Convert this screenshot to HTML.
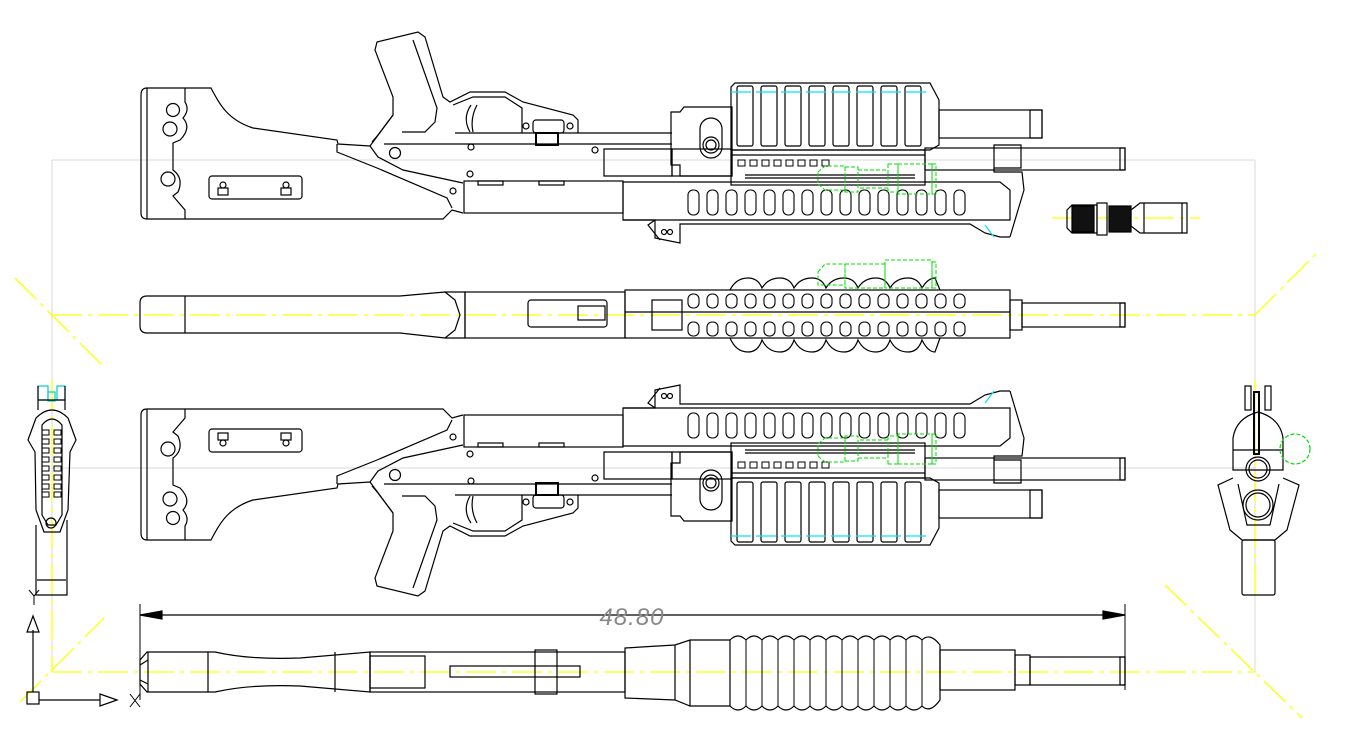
<!DOCTYPE html>
<html><head><meta charset="utf-8"><style>
html,body{margin:0;padding:0;background:#fff;}
svg{display:block}
</style></head><body>
<svg width="1347" height="752" viewBox="0 0 1347 752" xmlns="http://www.w3.org/2000/svg" fill="none" stroke="#000" stroke-width="1.2" font-family="Liberation Sans, sans-serif">
<!-- construction lines -->
<g stroke="#d8d8d8" stroke-width="1">
<line x1="52" y1="160" x2="1255" y2="160"/>
<line x1="52" y1="468" x2="1255" y2="468"/>
<line x1="52" y1="160" x2="52" y2="672"/>
<line x1="1255" y1="160" x2="1255" y2="672"/>
</g>
<g stroke="#ffff00" stroke-width="1.3" stroke-dasharray="30,6,4,6">
<line x1="52" y1="315" x2="1255" y2="315"/>
<line x1="52" y1="672" x2="1255" y2="672"/>
<line x1="52" y1="380" x2="52" y2="672"/>
<line x1="1255" y1="380" x2="1255" y2="600"/>
<line x1="15" y1="278" x2="102" y2="365"/>
<line x1="1255" y1="315" x2="1318" y2="252"/>
<line x1="1165" y1="585" x2="1302" y2="718"/>
<line x1="20" y1="702" x2="104" y2="618"/>
<line x1="1052" y1="218" x2="1200" y2="218"/>
</g>

<defs>
<g id="gun1">
 <!-- stock -->
 <path d="M147,88 L211,88 C220,105 228,120 253,128 L337,140 L338,144 L370,146 L393,115 L393,97 L375,50 L377,42 L418,32 L425,37 L443,97 L450,102 L470,92 L505,92 L523,102 L573,115 L578,120 L578,133"/>
 <path d="M147,88 Q141,88 141,95 L141,213 Q141,219 147,219 L443,219 L452,210 L463,213"/>
 <line x1="147" y1="88" x2="147" y2="219"/>
 <path d="M185,88 L185,102 Q190,110 183,118 Q192,128 180,140 L173,143 L173,170 Q184,178 178,192 L173,196 L185,210 L185,219"/>
 <circle cx="173" cy="110" r="6.5"/><circle cx="170" cy="129" r="7"/><circle cx="168" cy="179" r="7"/>
 <rect x="209" y="176" width="93" height="23" rx="3"/>
 <rect x="218" y="188" width="10" height="7"/><circle cx="223" cy="185" r="3"/>
 <rect x="281" y="188" width="10" height="7"/><circle cx="286" cy="185" r="3"/>
 <path d="M337,144 L337,152 L377,168 L447,198 L452,208"/>
 <path d="M370,146 L378,157 L403,170 L463,183"/>
 <path d="M413,40 L437,108 L435,122 L425,132 L402,132"/>
 <path d="M393,115 L378,135 L372,142"/>
 <circle cx="395" cy="153" r="5.5"/>
 <!-- trigger guard -->
 <path d="M453,105 L473,97 L505,97 L522,108 L522,133"/>
 <path d="M471,105 Q462,118 470,132"/><path d="M477,105 Q470,118 473,132"/>
 <rect x="533" y="120" width="31" height="13" rx="3"/>
 <rect x="536" y="133" width="22" height="12" stroke-width="2"/>
 <circle cx="526" cy="126" r="3"/><circle cx="570" cy="126" r="3"/>
 <circle cx="471" cy="147" r="3"/><circle cx="470" cy="174" r="3"/><circle cx="595" cy="150" r="3"/><circle cx="453" cy="191" r="3"/>
 <!-- receiver -->
 <line x1="455" y1="133" x2="672" y2="133"/>
 <line x1="384" y1="144" x2="672" y2="144"/>
 <path d="M604,149 L672,149 L672,176 L604,176 Z"/>
 <rect x="464" y="181" width="159" height="32"/>
 <rect x="478" y="181" width="25" height="4"/><rect x="539" y="181" width="25" height="4"/>
 <!-- receiver block -->
 <path d="M671,112 L671,165 L680,165 L680,176 L732,176 L732,107 L684,107 L680,112 Z"/>
 <rect x="700" y="118" width="22" height="40" rx="11"/>
 <circle cx="711" cy="145" r="8"/><circle cx="711" cy="145" r="5"/>
 <!-- ribbed upper -->
 <path d="M731,87 L735,83 L930,83 L939,100 L939,145 L930,150 L731,150 Z"/>
 <g>
  <rect x="737" y="86" width="16" height="60" rx="2"/><rect x="761" y="86" width="16" height="60" rx="2"/>
  <rect x="785" y="86" width="16" height="60" rx="2"/><rect x="809" y="86" width="16" height="60" rx="2"/>
  <rect x="833" y="86" width="16" height="60" rx="2"/><rect x="857" y="86" width="16" height="60" rx="2"/>
  <rect x="881" y="86" width="16" height="60" rx="2"/><rect x="905" y="86" width="16" height="60" rx="2"/>
 </g>
 <line x1="731" y1="92" x2="928" y2="92" stroke="#00e5ff" stroke-dasharray="20,5"/>
 <rect x="939" y="110" width="103" height="28"/><rect x="1030" y="110" width="12" height="28"/>
 <!-- rail -->
 <rect x="731" y="150" width="194" height="35"/>
 <g stroke-width="1"><rect x="738" y="160" width="7" height="6"/><rect x="750" y="160" width="7" height="6"/><rect x="762" y="160" width="7" height="6"/><rect x="774" y="160" width="7" height="6"/><rect x="786" y="160" width="7" height="6"/><rect x="798" y="160" width="7" height="6"/><rect x="810" y="160" width="7" height="6"/><rect x="822" y="160" width="7" height="6"/></g>
 <line x1="745" y1="175" x2="915" y2="175"/><line x1="745" y1="178" x2="915" y2="178"/>
 <line x1="731" y1="155" x2="925" y2="155"/>
 <!-- lower barrel -->
 <rect x="672" y="149" width="60" height="27"/>
 <rect x="925" y="148" width="200" height="22"/><rect x="1120" y="148" width="5" height="22"/>
 <path d="M994,145 L1021,145 L1021,168 L994,168 Z"/>
 <path d="M994,168 L994,172 L1022,172 L1024,190 L1018,210 L1010,237"/>
 <!-- handguard -->
 <path d="M623,182 L1000,182 L1010,190 L1010,220 L623,220 Z"/>
 <g stroke-width="1.1">
  <rect x="688" y="190" width="11" height="25" rx="5"/><rect x="707" y="190" width="11" height="25" rx="5"/><rect x="726" y="190" width="11" height="25" rx="5"/><rect x="745" y="190" width="11" height="25" rx="5"/><rect x="764" y="190" width="11" height="25" rx="5"/><rect x="783" y="190" width="11" height="25" rx="5"/><rect x="802" y="190" width="11" height="25" rx="5"/><rect x="821" y="190" width="11" height="25" rx="5"/><rect x="840" y="190" width="11" height="25" rx="5"/><rect x="859" y="190" width="11" height="25" rx="5"/><rect x="878" y="190" width="11" height="25" rx="5"/><rect x="897" y="190" width="11" height="25" rx="5"/><rect x="916" y="190" width="11" height="25" rx="5"/><rect x="935" y="190" width="11" height="25" rx="5"/><rect x="954" y="190" width="11" height="25" rx="5"/>
 </g>
 <path d="M623,220 L655,220 L655,238 L680,243 L680,224 L970,224 L985,233 L1000,237 L1010,237"/>
 <path d="M655,220 L648,225 L660,240"/>
 <circle cx="664" cy="232" r="2.5"/><circle cx="670" cy="232" r="2.5"/>
 <line x1="985" y1="225" x2="994" y2="237" stroke="#00e5ff"/>
 <!-- green dashed scope -->
 <g stroke="#00dd00" stroke-dasharray="4,2" stroke-width="1">
  <path d="M818,172 L825,166 L845,166 L845,190 L825,190 L818,184 Z"/>
  <rect x="845" y="167" width="13" height="25"/><rect x="858" y="170" width="30" height="18"/>
  <rect x="888" y="164" width="10" height="28"/><rect x="898" y="164" width="34" height="30"/>
  <rect x="932" y="164" width="4" height="30"/>
 </g>
</g>
</defs>

<use href="#gun1"/>
<use href="#gun1" transform="translate(0,628) scale(1,-1)"/>

<!-- muzzle device -->
<path d="M1067,210 L1072,205 L1097,205 L1097,233 L1072,233 L1067,228 Z"/>
<rect x="1072" y="206" width="22" height="26" fill="#111"/>
<rect x="1097" y="203" width="10" height="32"/>
<rect x="1109" y="206" width="22" height="26" fill="#111"/>
<path d="M1131,210 L1140,203 L1187,203 L1187,233 L1140,233 L1131,226 Z"/>
<line x1="1144" y1="203" x2="1144" y2="233"/><line x1="1182" y1="203" x2="1182" y2="233"/>

<!-- gun 2 (top view) -->
<path d="M147,296 L185,296 L400,296 L445,292 L465,292 L465,338 L445,338 L400,333 L185,333 L147,333 Q140,333 140,326 L140,303 Q140,296 147,296 Z"/>
<line x1="185" y1="296" x2="185" y2="333"/>
<path d="M445,292 L455,300 L460,315 L455,330 L445,338"/>
<rect x="465" y="292" width="160" height="46"/>
<rect x="528" y="300" width="79" height="27" rx="3"/>
<rect x="578" y="306" width="27" height="14"/>
<rect x="625" y="290" width="385" height="48"/>
<rect x="652" y="300" width="30" height="30"/>
<path d="M730,290 Q736,278 748,278 Q758,278 762,288 Q768,278 780,278 Q790,278 794,288 Q800,278 812,278 Q822,278 826,288 Q832,278 844,278 Q854,278 858,288 Q864,278 876,278 Q886,278 890,288 Q896,278 908,278 Q918,278 922,288 Q928,278 935,278 L940,290"/>
<path d="M730,338 Q736,352 748,352 Q758,352 762,340 Q768,352 780,352 Q790,352 794,340 Q800,352 812,352 Q822,352 826,340 Q832,352 844,352 Q854,352 858,340 Q864,352 876,352 Q886,352 890,340 Q896,352 908,352 Q918,352 922,340 Q928,352 935,352 L940,338"/>
<g stroke-width="1.1">
<rect x="688" y="294" width="11" height="14" rx="5"/><rect x="707" y="294" width="11" height="14" rx="5"/><rect x="726" y="294" width="11" height="14" rx="5"/><rect x="745" y="294" width="11" height="14" rx="5"/><rect x="764" y="294" width="11" height="14" rx="5"/><rect x="783" y="294" width="11" height="14" rx="5"/><rect x="802" y="294" width="11" height="14" rx="5"/><rect x="821" y="294" width="11" height="14" rx="5"/><rect x="840" y="294" width="11" height="14" rx="5"/><rect x="859" y="294" width="11" height="14" rx="5"/><rect x="878" y="294" width="11" height="14" rx="5"/><rect x="897" y="294" width="11" height="14" rx="5"/><rect x="916" y="294" width="11" height="14" rx="5"/><rect x="935" y="294" width="11" height="14" rx="5"/><rect x="954" y="294" width="11" height="14" rx="5"/>
<rect x="688" y="322" width="11" height="14" rx="5"/><rect x="707" y="322" width="11" height="14" rx="5"/><rect x="726" y="322" width="11" height="14" rx="5"/><rect x="745" y="322" width="11" height="14" rx="5"/><rect x="764" y="322" width="11" height="14" rx="5"/><rect x="783" y="322" width="11" height="14" rx="5"/><rect x="802" y="322" width="11" height="14" rx="5"/><rect x="821" y="322" width="11" height="14" rx="5"/><rect x="840" y="322" width="11" height="14" rx="5"/><rect x="859" y="322" width="11" height="14" rx="5"/><rect x="878" y="322" width="11" height="14" rx="5"/><rect x="897" y="322" width="11" height="14" rx="5"/><rect x="916" y="322" width="11" height="14" rx="5"/><rect x="935" y="322" width="11" height="14" rx="5"/><rect x="954" y="322" width="11" height="14" rx="5"/>
</g>
<rect x="1010" y="300" width="12" height="30"/>
<rect x="1022" y="303" width="103" height="24"/><rect x="1120" y="303" width="5" height="24"/>
<line x1="625" y1="312" x2="1010" y2="312"/>
<g stroke="#00dd00" stroke-dasharray="4,2" stroke-width="1">
<path d="M818,272 L825,264 L845,264 L845,285 L818,285 Z"/><rect x="845" y="264" width="40" height="24"/><rect x="885" y="260" width="47" height="28"/><rect x="932" y="262" width="4" height="26"/>
</g>

<!-- gun 4 (bottom view) -->
<path d="M147,652 L215,652 Q250,660 300,658 L370,652 L370,692 L300,686 Q250,684 215,692 L147,692 L140,684 L140,660 Z"/>
<line x1="148" y1="652" x2="148" y2="692"/><line x1="140" y1="665" x2="148" y2="660"/><line x1="140" y1="680" x2="148" y2="684"/>
<line x1="208" y1="652" x2="208" y2="692"/>
<line x1="335" y1="652" x2="335" y2="692"/>
<rect x="370" y="652" width="255" height="40"/>
<rect x="370" y="656" width="55" height="32"/>
<rect x="450" y="666" width="130" height="11"/>
<rect x="535" y="650" width="22" height="44"/>
<path d="M625,648 L675,645 L690,640 L730,640 L730,706 L690,706 L675,700 L625,698 Z"/>
<line x1="675" y1="645" x2="675" y2="700"/><line x1="690" y1="640" x2="690" y2="706"/>
<path d="M730,640 Q738,632 746,640 Q754,632 762,640 Q770,632 778,640 Q786,632 794,640 Q802,632 810,640 Q818,632 826,640 Q834,632 842,640 Q850,632 858,640 Q866,632 874,640 Q882,632 890,640 Q898,632 906,640 Q914,632 922,640 Q930,632 940,645 L940,700 Q930,714 922,706 Q914,714 906,706 Q898,714 890,706 Q882,714 874,706 Q866,714 858,706 Q850,714 842,706 Q834,714 826,706 Q818,714 810,706 Q802,714 794,706 Q786,714 778,706 Q770,714 762,706 Q754,714 746,706 Q738,714 730,706"/>
<g stroke-width="1"><line x1="746" y1="640" x2="746" y2="706"/><line x1="762" y1="640" x2="762" y2="706"/><line x1="778" y1="640" x2="778" y2="706"/><line x1="794" y1="640" x2="794" y2="706"/><line x1="810" y1="640" x2="810" y2="706"/><line x1="826" y1="640" x2="826" y2="706"/><line x1="842" y1="640" x2="842" y2="706"/><line x1="858" y1="640" x2="858" y2="706"/><line x1="874" y1="640" x2="874" y2="706"/><line x1="890" y1="640" x2="890" y2="706"/><line x1="906" y1="640" x2="906" y2="706"/><line x1="922" y1="640" x2="922" y2="706"/></g>
<rect x="940" y="650" width="75" height="40"/>
<rect x="1015" y="655" width="15" height="30"/>
<rect x="1030" y="657" width="95" height="28"/><rect x="1120" y="657" width="5" height="28"/>

<!-- dimension -->
<line x1="140" y1="604" x2="140" y2="700" stroke-width="1"/>
<line x1="1125" y1="604" x2="1125" y2="690" stroke-width="1"/>
<line x1="140" y1="615" x2="1125" y2="615"/>
<path d="M140,615 L162,611 L162,619 Z" fill="#000"/>
<path d="M1125,615 L1103,611 L1103,619 Z" fill="#000"/>
<text x="632" y="625" text-anchor="middle" font-size="24" font-style="italic" fill="#888" stroke="none" letter-spacing="1">48.80</text>

<!-- left end view -->
<rect x="38" y="386" width="10" height="14" stroke="#00cccc"/><rect x="57" y="386" width="8" height="14" stroke="#00cccc"/><rect x="48" y="392" width="7" height="9" stroke="#00cccc"/>
<line x1="38" y1="400" x2="65" y2="400"/><line x1="38" y1="386" x2="38" y2="410"/><line x1="65" y1="386" x2="65" y2="410"/>
<path d="M36,418 Q52,402 68,418 L76,440 L70,452 L68,510 L60,532 L44,532 L36,510 L35,452 L28,440 Z"/>
<path d="M42,425 Q52,413 62,425 L62,515 L56,525 L48,525 L42,515 Z"/>
<g stroke-width="1"><rect x="42" y="430" width="7" height="5"/><rect x="54" y="430" width="7" height="5"/><rect x="42" y="439" width="7" height="5"/><rect x="54" y="439" width="7" height="5"/><rect x="42" y="448" width="7" height="5"/><rect x="54" y="448" width="7" height="5"/><rect x="42" y="457" width="7" height="5"/><rect x="54" y="457" width="7" height="5"/><rect x="42" y="466" width="7" height="5"/><rect x="54" y="466" width="7" height="5"/><rect x="42" y="475" width="7" height="5"/><rect x="54" y="475" width="7" height="5"/><rect x="42" y="484" width="7" height="5"/><rect x="54" y="484" width="7" height="5"/><rect x="42" y="492" width="7" height="5"/><rect x="54" y="492" width="7" height="5"/></g>
<circle cx="51" cy="523" r="5"/>
<path d="M36,525 L36,595 L67,595 L67,520"/><line x1="37" y1="580" x2="66" y2="580"/>

<!-- right end view -->
<rect x="1245" y="386" width="6" height="24"/><rect x="1265" y="386" width="6" height="24"/>
<rect x="1254" y="392" width="5" height="62" stroke-width="2"/>
<path d="M1233,438 Q1236,418 1258,412 Q1280,418 1283,438 L1283,470 L1233,470 Z"/>
<line x1="1233" y1="450" x2="1283" y2="450"/>
<circle cx="1258" cy="469" r="12"/><circle cx="1258" cy="469" r="9"/>
<path d="M1233,478 L1218,485 L1230,530 L1242,540 L1275,540 L1287,530 L1299,485 L1283,478"/>
<path d="M1238,484 L1247,525 L1270,525 L1279,484"/>
<circle cx="1258" cy="505" r="15"/><circle cx="1258" cy="505" r="12"/>
<rect x="1242" y="540" width="33" height="55" rx="2"/>
<circle cx="1295" cy="449" r="15" stroke="#00dd00" stroke-dasharray="4,2"/>

<!-- axis icon -->
<line x1="33" y1="692" x2="33" y2="630"/>
<path d="M33,616 L27,632 L39,632 Z"/>
<rect x="27" y="692" width="12" height="12"/>
<line x1="39" y1="700" x2="100" y2="700"/>
<path d="M117,700 L100,694 L100,706 Z"/>
<path d="M29,590 L34,596 L39,590 M34,596 L34,605" stroke-width="1"/>
<path d="M130,694 L140,707 M140,694 L130,707" stroke-width="1"/>
</svg>
</body></html>
